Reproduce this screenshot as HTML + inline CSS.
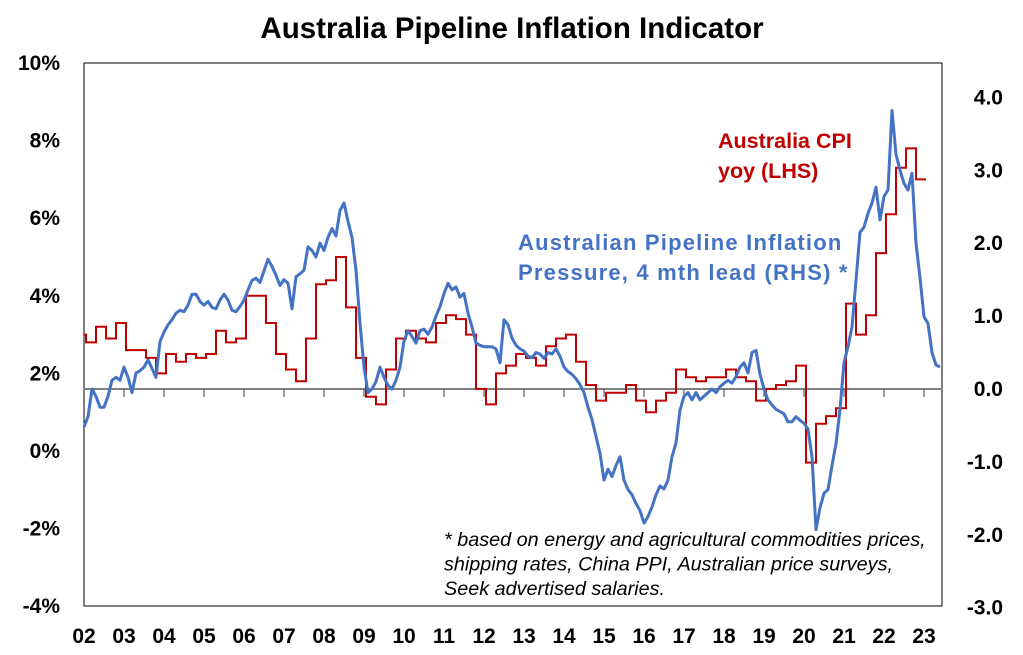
<!DOCTYPE html>
<html><head><meta charset="utf-8"><style>
body{margin:0;background:#fff;}
svg{display:block;font-family:"Liberation Sans",Arial,sans-serif;}
</style></head><body>
<svg width="1023" height="655" viewBox="0 0 1023 655">
<rect x="0" y="0" width="1023" height="655" fill="#fff"/>
<text x="512" y="38" text-anchor="middle" font-size="29.5" font-weight="bold" fill="#000">Australia Pipeline Inflation Indicator</text>
<rect x="84" y="63" width="858" height="543" fill="none" stroke="#000" stroke-width="1"/>
<g id="leftAxis"></g>
<g id="rightAxis"></g>
<g id="xAxis"></g>
<path id="cpiLine" fill="none" stroke="#c00000" stroke-width="2"/>
<path id="pipeLine" fill="none" stroke="#4472c4" stroke-width="3" stroke-linejoin="round"/>
<text x="718" y="148" font-size="21.5" font-weight="bold" fill="#c00000"><tspan x="718">Australia CPI</tspan><tspan x="718" dy="30">yoy (LHS)</tspan></text>
<text x="518" y="250" font-size="22" font-weight="bold" letter-spacing="1.2" fill="#4472c4"><tspan x="518">Australian Pipeline Inflation</tspan><tspan x="518" dy="30">Pressure, 4 mth lead (RHS) *</tspan></text>
<text x="444" y="546" font-size="19.8" font-style="italic" fill="#000"><tspan x="444">* based on energy and agricultural commodities prices,</tspan><tspan x="444" dy="24.5">shipping rates, China PPI, Australian price surveys,</tspan><tspan x="444" dy="24.5">Seek advertised salaries.</tspan></text>
</svg>
<script>
const leftTicks = [10, 8, 6, 4, 2, 0, -2, -4];
const leftTickLabels = ["10%", "8%", "6%", "4%", "2%", "0%", "-2%", "-4%"];
const rightTicks = [4, 3, 2, 1, 0, -1, -2, -3];
const rightTickLabels = ["4.0", "3.0", "2.0", "1.0", "0.0", "-1.0", "-2.0", "-3.0"];
const yearLabels = ["02","03","04","05","06","07","08","09","10","11","12","13","14","15","16","17","18","19","20","21","22","23"];
const cpiStart = 2001.8;
const cpiStep = 0.25;
const cpiValues = [3.0,2.8,3.2,2.9,3.3,2.6,2.6,2.4,2.0,2.5,2.3,2.5,2.4,2.5,3.1,2.8,2.9,4.0,4.0,3.3,2.5,2.1,1.8,2.9,4.3,4.4,5.0,3.7,2.4,1.4,1.2,2.1,2.9,3.1,2.9,2.8,3.3,3.5,3.4,3.0,1.6,1.2,2.0,2.2,2.5,2.4,2.2,2.7,2.9,3.0,2.3,1.7,1.3,1.5,1.5,1.7,1.3,1.0,1.3,1.5,2.1,1.9,1.8,1.9,1.9,2.1,1.9,1.8,1.3,1.6,1.7,1.8,2.2,-0.3,0.7,0.9,1.1,3.8,3.0,3.5,5.1,6.1,7.3,7.8,7.0];
const pipeStart = 2002.0;
const pipeStep = 0.1;
const pipeValues = [-0.52,-0.38,0,-0.1,-0.25,-0.25,-0.1,0.12,0.16,0.12,0.3,0.16,-0.05,0.22,0.25,0.3,0.4,0.28,0.16,0.65,0.78,0.88,0.95,1.04,1.08,1.06,1.15,1.3,1.3,1.2,1.15,1.2,1.12,1.1,1.22,1.3,1.22,1.08,1.06,1.13,1.22,1.36,1.49,1.52,1.46,1.62,1.78,1.68,1.56,1.42,1.5,1.45,1.1,1.54,1.58,1.63,1.95,1.9,1.81,2.0,1.9,2.08,2.2,2.1,2.45,2.55,2.3,2.08,1.63,0.9,0.3,-0.05,0,0.1,0.3,0.16,0.05,0,0.12,0.3,0.66,0.8,0.72,0.63,0.8,0.82,0.75,0.85,1.0,1.13,1.31,1.45,1.36,1.4,1.26,1.31,1.04,0.85,0.63,0.6,0.58,0.58,0.58,0.55,0.36,0.95,0.88,0.7,0.6,0.55,0.52,0.45,0.43,0.5,0.48,0.42,0.5,0.48,0.55,0.45,0.3,0.24,0.2,0.14,0.06,-0.05,-0.25,-0.42,-0.65,-0.88,-1.25,-1.1,-1.2,-1.05,-0.93,-1.25,-1.38,-1.45,-1.57,-1.67,-1.84,-1.75,-1.62,-1.45,-1.33,-1.37,-1.25,-0.93,-0.74,-0.29,-0.1,-0.05,-0.15,-0.05,-0.15,-0.1,-0.05,0,-0.05,0.03,0.08,0.12,0.08,0.17,0.3,0.36,0.22,0.5,0.53,0.2,0,-0.15,-0.22,-0.28,-0.31,-0.34,-0.45,-0.45,-0.38,-0.43,-0.47,-0.55,-0.93,-1.93,-1.63,-1.43,-1.38,-1.05,-0.75,-0.28,0.36,0.58,0.85,1.49,2.15,2.22,2.41,2.55,2.77,2.32,2.64,2.73,3.82,3.22,3.0,2.82,2.73,2.96,2.0,1.53,0.99,0.9,0.5,0.33,0.3];

const NS = "http://www.w3.org/2000/svg";
const X0 = 84, X1 = 942;
function xScale(t){ return 84 + (t - 2002) * 40; }
function yLeft(v){ return 451 - v * 38.8; }
function yRight(v){ return 389 - v * 72.9; }
function clampX(x){ return Math.max(X0, Math.min(X1, x)); }

const la = document.getElementById('leftAxis');
leftTicks.forEach((v, i) => {
  const t = document.createElementNS(NS, 'text');
  t.setAttribute('x', 60); t.setAttribute('y', yLeft(v) + 7);
  t.setAttribute('text-anchor', 'end'); t.setAttribute('font-size', '21'); t.setAttribute('font-weight', 'bold');
  t.textContent = leftTickLabels[i];
  
  
  la.appendChild(t);
});
const ra = document.getElementById('rightAxis');
rightTicks.forEach((v, i) => {
  const t = document.createElementNS(NS, 'text');
  t.setAttribute('x', 1003); t.setAttribute('y', yRight(v) + 7);
  t.setAttribute('text-anchor', 'end'); t.setAttribute('font-size', '21'); t.setAttribute('font-weight', 'bold');
  t.textContent = rightTickLabels[i];
  
  
  ra.appendChild(t);
});
const xa = document.getElementById('xAxis');
const zl = document.createElementNS(NS, 'line');
zl.setAttribute('x1', X0); zl.setAttribute('x2', X1);
zl.setAttribute('y1', yRight(0)); zl.setAttribute('y2', yRight(0));
zl.setAttribute('stroke', '#808080'); zl.setAttribute('stroke-width', '2');


xa.appendChild(zl);
yearLabels.forEach((lab, i) => {
  const x = xScale(2002 + i);
  if (i > 0) {
    const tk = document.createElementNS(NS, 'line');
    tk.setAttribute('x1', x); tk.setAttribute('x2', x);
    tk.setAttribute('y1', yRight(0)); tk.setAttribute('y2', yRight(0) + 8);
    tk.setAttribute('stroke', '#404040'); tk.setAttribute('stroke-width', '1');
    
    
    xa.appendChild(tk);
  }
  const t = document.createElementNS(NS, 'text');
  t.setAttribute('x', x); t.setAttribute('y', 643);
  t.setAttribute('text-anchor', 'middle'); t.setAttribute('font-size', '21'); t.setAttribute('font-weight', 'bold');
  t.textContent = lab;
  
  
  xa.appendChild(t);
});

let d = '';
cpiValues.forEach((v, k) => {
  const xa1 = clampX(xScale(cpiStart + cpiStep * k));
  const xb = clampX(xScale(cpiStart + cpiStep * (k + 1)));
  const y = yLeft(v);
  d += (k === 0 ? 'M' : 'L') + xa1.toFixed(1) + ',' + y.toFixed(1) + 'L' + xb.toFixed(1) + ',' + y.toFixed(1);
});
document.getElementById('cpiLine').setAttribute('d', d);

let d2 = '';
pipeValues.forEach((v, i) => {
  const x = xScale(pipeStart + pipeStep * i);
  d2 += (i === 0 ? 'M' : 'L') + x.toFixed(1) + ',' + yRight(v).toFixed(1);
});
document.getElementById('pipeLine').setAttribute('d', d2);
</script>
</body></html>
